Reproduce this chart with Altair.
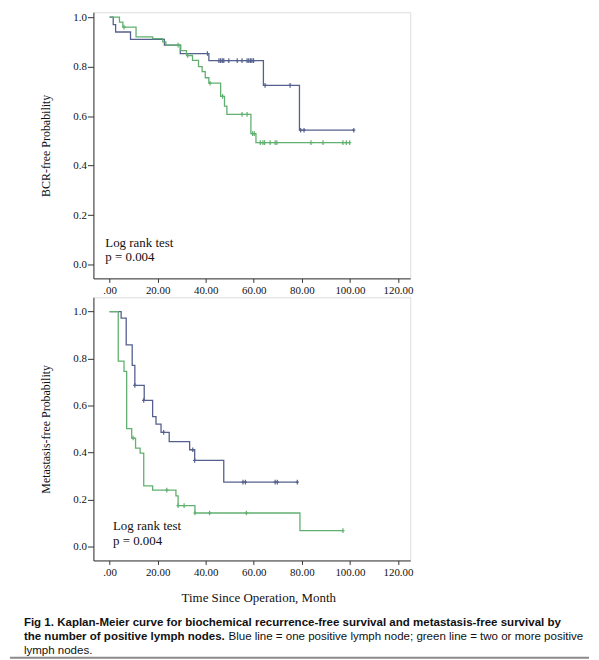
import altair as alt
import pandas as pd

# ---------------- data ----------------
GROUPS = ["one", "two"]
COLORS = ["#55608F", "#62B070"]

# BCR-free survival
bcr_one_t = [0, 1.5, 2.5, 8.7, 22.8, 29.4, 41.3, 64.0, 79.0, 101.6]
bcr_one_s = [1.0, 0.97, 0.94, 0.91, 0.887, 0.853, 0.824, 0.724, 0.543, 0.543]
bcr_one_ct = [40.7, 45.5, 46.2, 46.9, 47.5, 49.6, 53.1, 55.1, 57.2, 57.9, 58.6, 59.2, 59.9,
              64.7, 75.1, 79.5, 80.9, 101.6]
bcr_one_cs = [0.853, 0.824, 0.824, 0.824, 0.824, 0.824, 0.824, 0.824, 0.824, 0.824, 0.824, 0.824, 0.824,
              0.724, 0.724, 0.543, 0.543, 0.543]

bcr_two_t = [0, 4.1, 5.5, 11.0, 17.9, 22.1, 23.4, 29.6, 32.0, 34.5, 37.0, 38.5, 39.8, 41.3,
             46.2, 47.8, 48.8, 58.8, 60.9, 99.9]
bcr_two_s = [1.0, 0.98, 0.96, 0.92, 0.913, 0.90, 0.887, 0.865, 0.845, 0.825, 0.80, 0.78, 0.755, 0.733,
             0.68, 0.64, 0.607, 0.529, 0.493, 0.493]
bcr_two_ct = [6.0, 28.5, 32.5, 41.8, 47.0, 55.1, 57.2, 59.5, 60.2, 62.7, 63.8, 64.5, 66.8, 68.9, 69.6,
              83.8, 88.8, 97.1, 98.5, 99.9]
bcr_two_cs = [0.96, 0.887, 0.845, 0.733, 0.68, 0.607, 0.607, 0.529, 0.529, 0.493, 0.493, 0.493, 0.493,
              0.493, 0.493, 0.493, 0.493, 0.493, 0.493, 0.493]

# Metastasis-free survival
met_one_t = [0, 4.8, 6.9, 9.4, 10.5, 14.4, 17.9, 19.3, 21.4, 24.8, 33.3, 35.4, 47.5, 78.1]
met_one_s = [1.0, 0.972, 0.858, 0.771, 0.686, 0.622, 0.553, 0.521, 0.486, 0.447, 0.412, 0.367, 0.274, 0.274]
met_one_ct = [10.5, 14.2, 22.5, 34.6, 35.4, 55.5, 56.5, 68.9, 69.8, 78.1]
met_one_cs = [0.686, 0.622, 0.486, 0.412, 0.367, 0.274, 0.274, 0.274, 0.274, 0.274]

met_two_t = [0, 3.6, 6.0, 7.1, 9.2, 10.8, 12.7, 14.2, 17.9, 27.6, 28.5, 35.5, 79.2, 97.1]
met_two_s = [1.0, 0.789, 0.746, 0.502, 0.462, 0.419, 0.398, 0.258, 0.24, 0.216, 0.174, 0.143, 0.068, 0.068]
met_two_ct = [9.8, 23.8, 28.5, 31.0, 35.5, 41.6, 56.9, 97.1]
met_two_cs = [0.462, 0.24, 0.174, 0.174, 0.143, 0.143, 0.143, 0.068]

X_TICKS = [0, 20, 40, 60, 80, 100, 120]
Y_TICKS = [0.0, 0.2, 0.4, 0.6, 0.8, 1.0]

LOG_TEXT = ["Log rank test", "p = 0.004"]
BCR_TEXT_T = [-1.8, -1.8]
BCR_TEXT_S = [0.072, 0.016]
MET_TEXT_T = [1.4, 1.4]
MET_TEXT_S = [0.069, 0.005]

CAP1 = "Fig 1. Kaplan-Meier curve for biochemical recurrence-free survival and metastasis-free survival by"
CAP2B = "the number of positive lymph nodes."
CAP2N = "Blue line = one positive lymph node; green line = two or more positive"
CAP3 = "lymph nodes."

SERIF = "Liberation Serif"
SANS = "Liberation Sans"
X_DOM = [-6.74, 125.1]
W = 319
H1 = 268
H2 = 265


def frame(pairs):
    rows = []
    for grp, ts, ss in pairs:
        for t, s in zip(ts, ss):
            rows.append({"t": t, "s": s, "grp": grp})
    return pd.DataFrame(rows)


def panel(lines_df, cens_df, txt_df, ytitle, ydom, h, xtitle, extra):
    xs = alt.Scale(domain=X_DOM, nice=False, zero=False)
    ys = alt.Scale(domain=ydom, nice=False, zero=False)
    xax_kw = dict(values=X_TICKS,
                  labelExpr="datum.value == 0 ? '.00' : format(datum.value, '.2f')",
                  grid=False, tickSize=4, labelPadding=2, labelFont=SERIF, labelFontSize=11,
                  labelColor="#111", domainColor="#333", tickColor="#333", labelFlush=False)
    if xtitle:
        xax = alt.Axis(title=xtitle, titleFont=SERIF, titleFontSize=13, titleFontWeight="normal",
                       titleColor="#111", titleX=166, titleY=41, titleBaseline="alphabetic",
                       titleAlign="center", **xax_kw)
    else:
        xax = alt.Axis(title=None, **xax_kw)
    yax = alt.Axis(values=Y_TICKS, format=".1f", grid=False, tickSize=6, labelPadding=1,
                   labelFont=SERIF, labelFontSize=11, labelColor="#111",
                   domainColor="#333", tickColor="#333",
                   title=ytitle, titleFont=SERIF, titleFontSize=12, titleFontWeight="normal",
                   titleColor="#111", titleX=-41)
    color = alt.Color("grp:N", scale=alt.Scale(domain=GROUPS, range=COLORS), legend=None)
    lines = alt.Chart(lines_df).mark_line(interpolate="step-after", strokeWidth=1.3).encode(
        x=alt.X("t:Q", scale=xs, axis=xax),
        y=alt.Y("s:Q", scale=ys, axis=yax),
        color=color, order="t:Q")
    cens = alt.Chart(cens_df).mark_point(
        shape="M0,-1L0,1M-0.7,0L0.7,0", filled=False, size=22, strokeWidth=1.2, opacity=1).encode(
        x=alt.X("t:Q", scale=xs),
        y=alt.Y("s:Q", scale=ys),
        color=color)
    txt = alt.Chart(txt_df).mark_text(align="left", baseline="alphabetic", font=SERIF,
                                       fontSize=13, color="#111").encode(
        x=alt.X("t:Q", scale=xs),
        y=alt.Y("s:Q", scale=ys),
        text="label:N")
    marker = alt.Chart(pd.DataFrame({"m": [" "]})).mark_text(
        align="left", baseline="top", fontSize=2, opacity=0).encode(
        x=alt.value(-84), y=alt.value(0), text="m:N")
    layers = [lines, cens, txt, marker] + extra
    return alt.layer(*layers).properties(width=W, height=h)


bcr_lines = frame([("one", bcr_one_t, bcr_one_s), ("two", bcr_two_t, bcr_two_s)])
bcr_cens = frame([("one", bcr_one_ct, bcr_one_cs), ("two", bcr_two_ct, bcr_two_cs)])
met_lines = frame([("one", met_one_t, met_one_s), ("two", met_two_t, met_two_s)])
met_cens = frame([("one", met_one_ct, met_one_cs), ("two", met_two_ct, met_two_cs)])
bcr_txt = pd.DataFrame({"t": BCR_TEXT_T, "s": BCR_TEXT_S, "label": LOG_TEXT})
met_txt = pd.DataFrame({"t": MET_TEXT_T, "s": MET_TEXT_S, "label": LOG_TEXT})

bottom_marker = alt.Chart(pd.DataFrame({"m": [" "]})).mark_text(
    align="left", baseline="bottom", fontSize=2, opacity=0).encode(
    x=alt.value(-84), y=alt.value(H1 + 17), text="m:N")


def cap(text, x, y, bold):
    return alt.Chart(pd.DataFrame({"c": [text]})).mark_text(
        align="left", baseline="alphabetic", font=SANS, fontSize=11.6,
        fontWeight="bold" if bold else "normal", color="#111").encode(
        x=alt.value(x), y=alt.value(y), text="c:N")


caps = [cap(CAP1, -70, 331, True), cap(CAP2B, -70, 345, True),
        cap(CAP2N, 136, 345, False), cap(CAP3, -70, 359, False)]
rule = alt.Chart(pd.DataFrame({"c": [0]})).mark_rule(color="#8a8a8a", strokeWidth=2).encode(
    x=alt.value(-84), x2=alt.value(499), y=alt.value(363))

top = panel(bcr_lines, bcr_cens, bcr_txt, "BCR-free Probability", [-0.056, 1.02], H1, None,
            [bottom_marker])
bottom = panel(met_lines, met_cens, met_txt, "Metastasis-free Probability", [-0.059, 1.061], H2,
               "Time Since Operation, Month", caps + [rule])

chart = alt.vconcat(top, bottom, spacing=0).properties(padding=0).configure_view(
    fill="#EFEFEF", stroke="#A0A0A0").configure(background="white")

chart.save("out.html", embed_options={"renderer": "svg", "actions": False})
